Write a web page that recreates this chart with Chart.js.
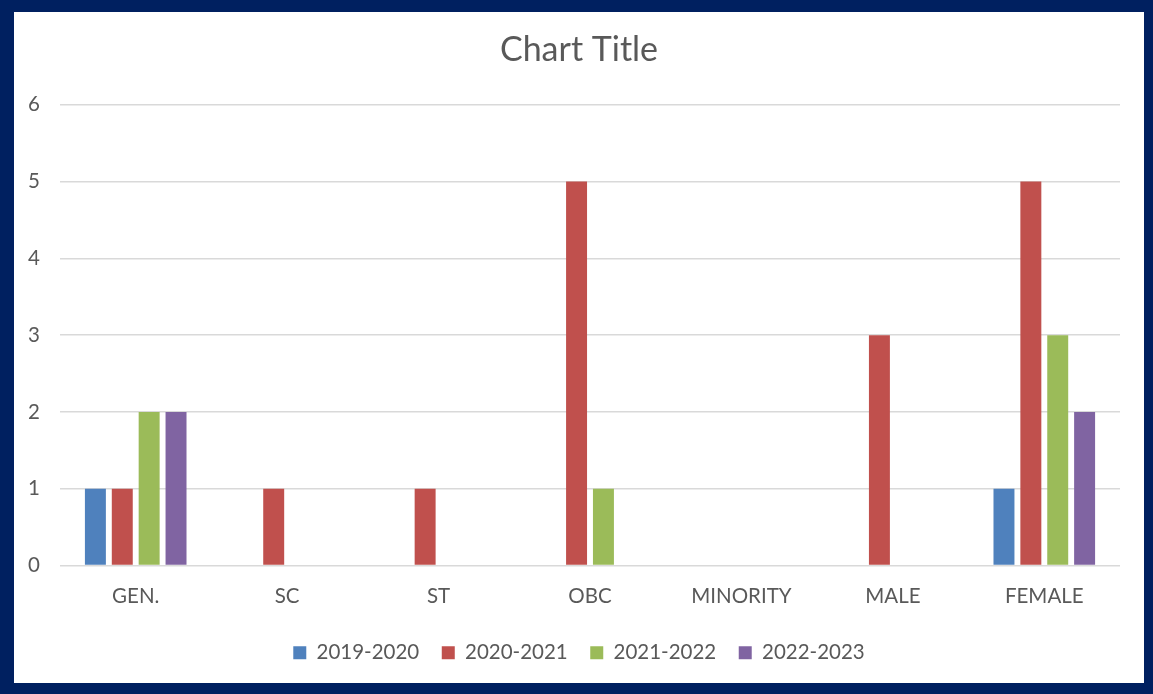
<!DOCTYPE html>
<html>
<head>
<meta charset="utf-8">
<script src="https://cdn.jsdelivr.net/npm/chart.js@4/dist/chart.umd.min.js"></script>
<style>
  html, body { margin: 0; padding: 0; background: #fff; }
  #frame {
    position: absolute; left: 0; top: 0;
    width: 1130px; height: 671px;
    border-style: solid; border-color: #002060;
    border-width: 12px 9px 11px 14px;
    background: #fff;
  }
  #chart { display: block; }
</style>
</head>
<body>
<div id="frame"><canvas id="chart" width="1130" height="671"></canvas></div>
<script>
const categories = ['GEN.', 'SC', 'ST', 'OBC', 'MINORITY', 'MALE', 'FEMALE']
const seriesNames = ['2019-2020', '2020-2021', '2021-2022', '2022-2023']
const y2019 = [1, 0, 0, 0, 0, 0, 1]
const y2020 = [1, 1, 1, 5, 0, 3, 5]
const y2021 = [2, 0, 0, 1, 0, 0, 3]
const y2022 = [2, 0, 0, 0, 0, 0, 2]
const yTicks = [0, 1, 2, 3, 4, 5, 6]

const colors = ['#4F81BD', '#C0504D', '#9BBB59', '#8064A2']
const values = [y2019, y2020, y2021, y2022]

const font = 'Lato, "Open Sans", sans-serif'
const grey = '#595959'

new Chart(document.getElementById('chart'), {
    type: 'bar',
    data: {
        labels: categories,
        datasets: seriesNames.map((name, i) => ({
            label: name,
            data: values[i],
            backgroundColor: colors[i],
            borderWidth: 0,
            categoryPercentage: 0.71,
            barPercentage: 0.78,
        })),
    },
    options: {
        responsive: false,
        animation: false,
        layout: { padding: { left: 24, right: 24, top: 18, bottom: 10 } },
        plugins: {
            title: {
                display: true,
                text: 'Chart Title',
                color: grey,
                font: { family: font, size: 34, weight: 'normal' },
                padding: { top: 0, bottom: 34 },
            },
            legend: {
                position: 'bottom',
                labels: {
                    color: grey,
                    font: { family: font, size: 20.5 },
                    boxWidth: 13,
                    boxHeight: 13,
                    padding: 22.5,
                },
            },
            tooltip: { enabled: false },
        },
        scales: {
            x: {
                grid: { display: false },
                border: { display: false },
                ticks: { color: grey, font: { family: font, size: 20.5, lineHeight: 0.9 }, padding: 14 },
            },
            y: {
                min: 0,
                max: 6,
                afterBuildTicks: axis => { axis.ticks = yTicks.map(v => ({ value: v })) },
                afterFit: axis => { axis.width = 22 },
                grid: { color: '#D9D9D9', lineWidth: 1.5, drawTicks: false },
                border: { display: false },
                // mirrored labels are not clipped to the narrow axis box
                ticks: { color: grey, font: { family: font, size: 20.5 }, mirror: true, padding: -32 },
            },
        },
    },
})
</script>
</body>
</html>
